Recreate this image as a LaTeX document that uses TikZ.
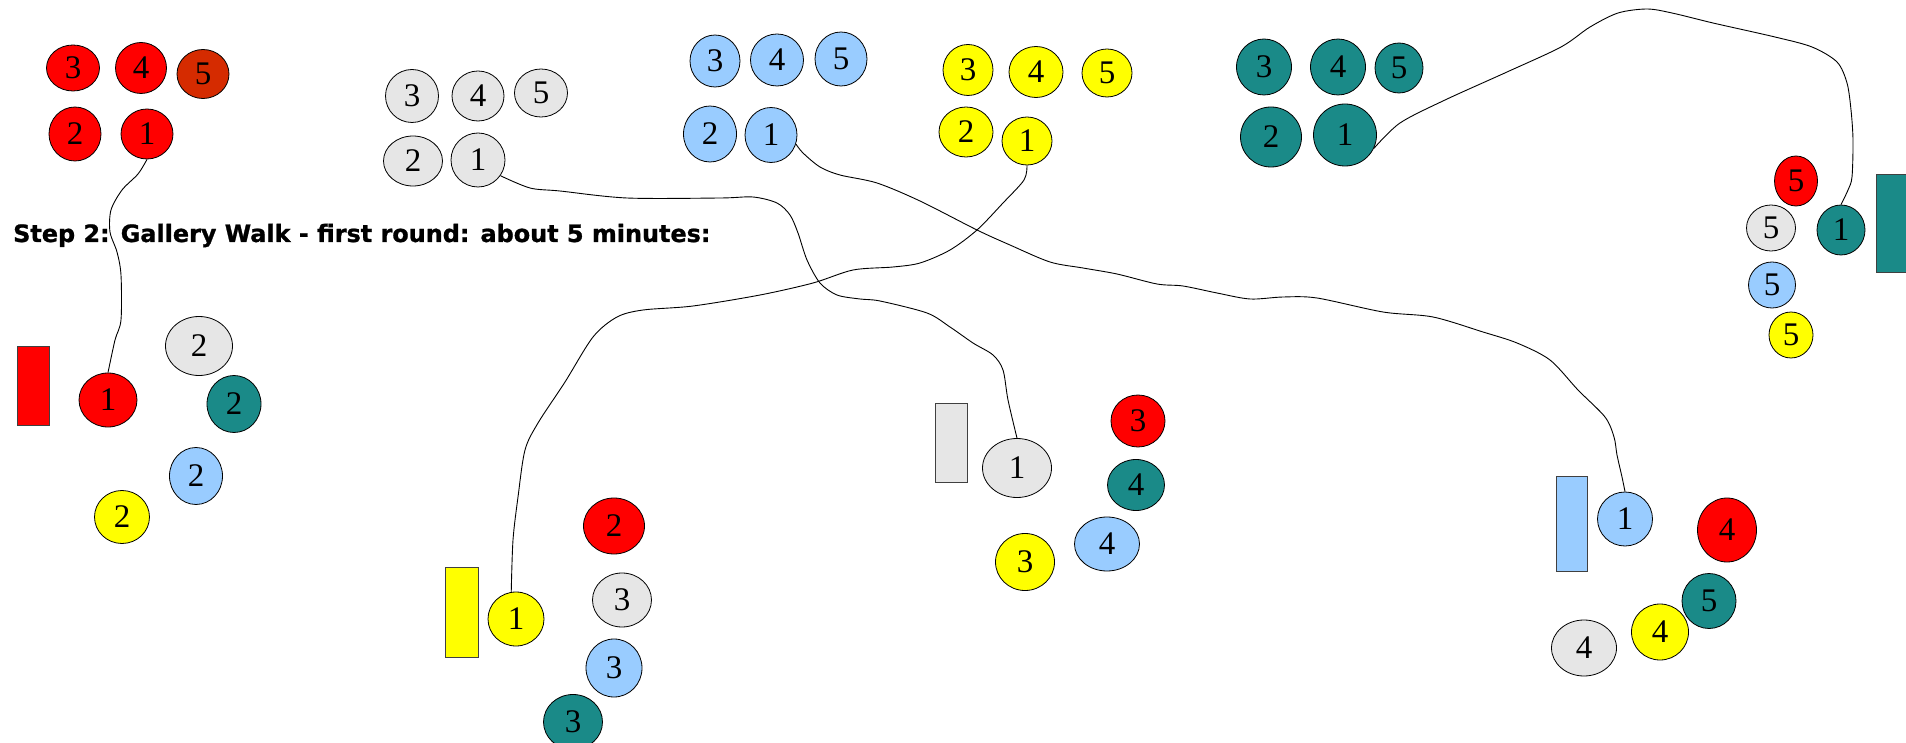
\documentclass[tikz,border=0pt]{standalone}
\usepackage{fontspec}
\setmainfont{Liberation Serif}
\newfontfamily\hdfont{DejaVu Sans}[BoldFeatures={FakeBold=1}]
\usetikzlibrary{shapes.geometric}
\definecolor{cR}{HTML}{FF0000}
\definecolor{cD}{HTML}{D52B00}
\definecolor{cG}{HTML}{E6E6E6}
\definecolor{cB}{HTML}{99CCFF}
\definecolor{cY}{HTML}{FFFF00}
\definecolor{cT}{HTML}{1A8A88}
\tikzset{
  tok/.style={ellipse, draw=black, line width=0.8pt, inner sep=0pt,
    font=\fontsize{33}{33}\selectfont},
  tR/.style={tok, fill=cR}, tD/.style={tok, fill=cD}, tG/.style={tok, fill=cG},
  tB/.style={tok, fill=cB}, tY/.style={tok, fill=cY}, tT/.style={tok, fill=cT},
  board/.style={draw=black!75, line width=0.8pt},
  walk/.style={draw=black, line width=0.9pt},
}
\newcommand{\tk}[6]{\node[#1, minimum width=#4, minimum height=#5] (#2) at #3 {#6};}
\begin{document}
\begin{tikzpicture}[x=1pt,y=-1pt]
\useasboundingbox (0,0) rectangle (1906,743);
\clip (0,0) rectangle (1906,743);
% top red group
\tk{tR}{rt3}{(73,68)}{53}{46}{3}
\tk{tR}{rt4}{(141,68)}{51}{51}{4}
\tk{tD}{rt5}{(203,74)}{52}{49}{5}
\tk{tR}{rt2}{(75,134)}{52}{54}{2}
\tk{tR}{rt1}{(147,134)}{52}{50}{1}
% top grey group
\tk{tG}{gt3}{(412,96)}{53}{53}{3}
\tk{tG}{gt4}{(478,96)}{52}{50}{4}
\tk{tG}{gt5}{(541,93)}{53}{48}{5}
\tk{tG}{gt2}{(413,161)}{59}{50}{2}
\tk{tG}{gt1}{(478,160)}{54}{54}{1}
% top blue group
\tk{tB}{bt3}{(715,61)}{50}{52}{3}
\tk{tB}{bt4}{(777,60)}{53}{52}{4}
\tk{tB}{bt5}{(841,59)}{52}{54}{5}
\tk{tB}{bt2}{(710,134)}{53}{56}{2}
\tk{tB}{bt1}{(771,135)}{52}{55}{1}
% top yellow group
\tk{tY}{yt3}{(968,70)}{50}{51}{3}
\tk{tY}{yt4}{(1036,72)}{54}{51}{4}
\tk{tY}{yt5}{(1107,73)}{50}{48}{5}
\tk{tY}{yt2}{(966,132)}{54}{50}{2}
\tk{tY}{yt1}{(1027,141)}{50}{48}{1}
% top teal group
\tk{tT}{tt3}{(1264,67)}{55}{56}{3}
\tk{tT}{tt4}{(1338,67)}{55}{56}{4}
\tk{tT}{tt5}{(1399,68)}{48}{50}{5}
\tk{tT}{tt2}{(1271,137)}{61}{60}{2}
\tk{tT}{tt1}{(1345,135)}{63}{62}{1}
% title
\node[anchor=base west, inner sep=0pt, font=\hdfont\bfseries\fontsize{23.9}{28}\selectfont] (title) at (13,242) {Step 2: Gallery Walk - first round: about 5 minutes:};
% red station
\draw[board, fill=cR] (17,346) rectangle (49,425);
\tk{tR}{rb1}{(108,400)}{58}{54}{1}
\tk{tG}{gb2}{(199,346)}{67}{59}{2}
\tk{tT}{tb2}{(234,404)}{54}{57}{2}
\tk{tB}{bb2}{(196,476)}{53}{57}{2}
\tk{tY}{yb2}{(122,517)}{55}{53}{2}
% yellow station
\draw[board, fill=cY] (445,567) rectangle (478,657);
\tk{tY}{yb1}{(516,619)}{56}{54}{1}
\tk{tR}{rb2}{(614,526)}{61}{56}{2}
\tk{tG}{gb3}{(622,600)}{59}{54}{3}
\tk{tB}{bb3}{(614,668)}{56}{58}{3}
\tk{tT}{tb3}{(573,722)}{59}{55}{3}
% grey station
\draw[board, fill=cG] (935,403) rectangle (967,482);
\tk{tG}{gb1}{(1017,468)}{69}{59}{1}
\tk{tR}{rb3}{(1138,421)}{54}{52}{3}
\tk{tT}{tb4}{(1136,485)}{57}{51}{4}
\tk{tB}{bb4}{(1107,544)}{65}{54}{4}
\tk{tY}{yb3}{(1025,562)}{59}{57}{3}
% blue station
\draw[board, fill=cB] (1556,476) rectangle (1587,571);
\tk{tB}{bb1}{(1625,519)}{55}{54}{1}
\tk{tR}{rb4}{(1727,530)}{59}{64}{4}
\tk{tT}{tb5}{(1709,601)}{54}{55}{5}
\tk{tY}{yb4}{(1660,632)}{57}{56}{4}
\tk{tG}{gb4}{(1584,648)}{65}{56}{4}
% teal station
\draw[board, fill=cT] (1876,174) rectangle (1912,272);
\tk{tT}{tr1}{(1841,230)}{48}{50}{1}
\tk{tR}{rr5}{(1796,181)}{43}{50}{5}
\tk{tG}{gr5}{(1771,228)}{49}{46}{5}
\tk{tB}{br5}{(1772,285)}{47}{46}{5}
\tk{tY}{yr5}{(1791,335)}{44}{46}{5}
% walks
\draw[walk] plot[smooth] coordinates {(rt1.south) (138,174) (122,190) (111,210) (110,232) (117,252) (121,275) (121,320) (115,340) (rb1.north)};
\draw[walk] plot[smooth] coordinates {(gt1.-35) (530,188) (560,191) (627,198) (720,198) (753,197) (777,203) (790,215) (798,233) (807,260) (820,283) (837,295) (860,299) (880,301) (927,313) (950,327) (973,343) (993,355) (1003,370) (1008,400) (gb1.north)};
\draw[walk] plot[smooth] coordinates {(yt1.south) (1024,180) (1003,203) (977,230) (950,250) (920,263) (893,267) (853,270) (813,283) (760,295) (693,306) (643,310) (617,317) (593,337) (565,382) (538,423) (525,450) (518,497) (513,540) (yb1.100)};
\draw[walk] plot[smooth] coordinates {(bt1.-20) (803,153) (820,167) (840,175) (877,183) (920,201) (977,230) (1010,245) (1050,262) (1083,268) (1117,274) (1157,284) (1183,286) (1217,293) (1250,299) (1283,297) (1317,298) (1383,312) (1433,317) (1483,332) (1517,343) (1550,360) (1578,390) (1605,417) (1614,437) (1617,455) (1622,477) (bb1.north)};
\draw[walk] plot[smooth] coordinates {(tt1.-25) (1400,123) (1445,100) (1507,72) (1561,47) (1590,27) (1618,13) (1647,9) (1672,13) (1713,23) (1775,37) (1812,47) (1837,62) (1847,83) (1851,110) (1853,140) (1852,177) (1848,190) (tr1.north)};
\end{tikzpicture}
\end{document}
